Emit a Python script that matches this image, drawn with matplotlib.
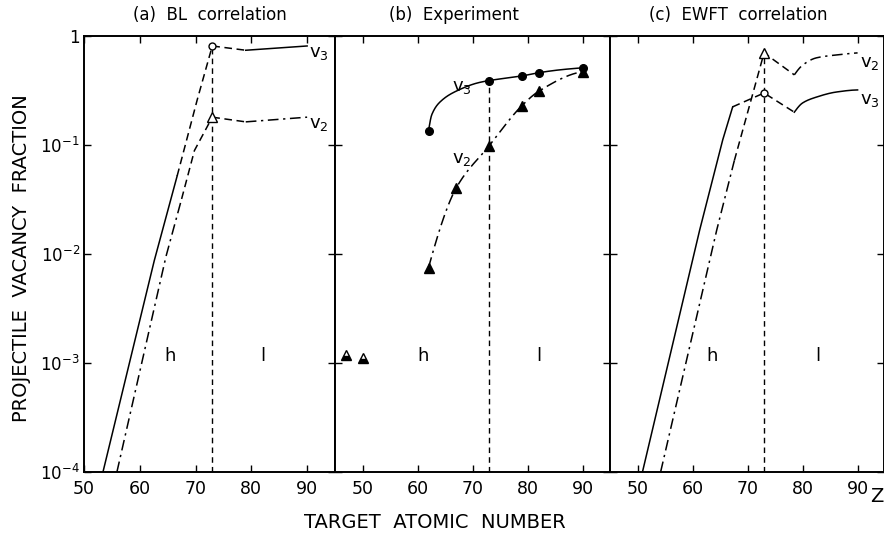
import numpy as np
import matplotlib
matplotlib.use("Agg")
import matplotlib.pyplot as plt
from matplotlib.markers import MarkerStyle

plt.rcParams['font.family'] = ['DejaVu Sans']
plt.rcParams['mathtext.default'] = 'regular'

# ---------------- data ----------------
x_ticks = [50, 60, 70, 80, 90]
y_ticks = [1e-4, 1e-3, 1e-2, 1e-1, 1]
y_ticklabels = [r'$10^{-4}$', r'$10^{-3}$', r'$10^{-2}$', r'$10^{-1}$', '1']
z_boundary = 73

# (a) BL correlation
a_v3_solid_z = [53.4, 62.6, 66.7]
a_v3_solid_v = [1.0e-4, 8.7e-3, 5.2e-2]
a_v3_dash_z = [66.7, 70.3, 73]
a_v3_dash_v = [5.2e-2, 0.26, 0.81]
a_v3_after_dash_z = [73, 79]
a_v3_after_dash_v = [0.81, 0.74]
a_v3_after_solid_z = [79, 90]
a_v3_after_solid_v = [0.74, 0.81]
a_v2_dashdot_z = [55.9, 64.7, 67.5]
a_v2_dashdot_v = [1.0e-4, 9.5e-3, 3.2e-2]
a_v2_dash_z = [67.5, 69.8, 73]
a_v2_dash_v = [3.2e-2, 8.9e-2, 0.18]
a_v2_after_dash_z = [73, 79]
a_v2_after_dash_v = [0.18, 0.163]
a_v2_after_dashdot_z = [79, 90]
a_v2_after_dashdot_v = [0.163, 0.18]

# (b) Experiment
b_v3_z = [62, 73, 79, 82, 90]
b_v3_v = [0.135, 0.39, 0.43, 0.46, 0.51]
b_v3_curve_z = [62, 62.6, 64.5, 67.5, 70.9, 73, 79, 82, 86, 90]
b_v3_curve_v = [0.135, 0.19, 0.259, 0.32, 0.371, 0.39, 0.43, 0.46, 0.49, 0.51]
b_v2_z = [62, 67, 73, 79, 82, 90]
b_v2_v = [0.0075, 0.040, 0.098, 0.23, 0.31, 0.47]
b_low_z = [47, 50]
b_low_v = [1.18e-3, 1.10e-3]

# (c) EWFT correlation
c_v3_solid_z = [50.9, 61.3, 65.5, 67.3]
c_v3_solid_v = [1.0e-4, 0.0166, 0.112, 0.224]
c_v3_dash_z = [67.3, 73, 78.5]
c_v3_dash_v = [0.224, 0.30, 0.20]
c_v3_curve_z = [78.5, 80.0, 82.5, 86.1, 90]
c_v3_curve_v = [0.20, 0.243, 0.275, 0.306, 0.32]
c_v2_dashdot_z = [54.2, 64.4, 67.6]
c_v2_dashdot_v = [1.0e-4, 0.0166, 0.072]
c_v2_dash_z = [67.6, 73, 78.5]
c_v2_dash_v = [0.072, 0.70, 0.44]
c_v2_curve_z = [78.5, 80.0, 82.5, 86.1, 90]
c_v2_curve_v = [0.44, 0.54, 0.63, 0.67, 0.70]

# ---------------- helpers ----------------
DASH = (0, (5, 3))
DASHDOT = (0, (7, 3, 1.5, 3))
VDASH = (0, (4, 3))
LW = 1.1


def smooth(zs, vs, n=400):
    """Monotone cubic (Fritsch-Carlson) through points in (Z, log10 V); rendering only."""
    x = np.asarray(zs, float)
    y = np.log10(np.asarray(vs, float))
    h = np.diff(x)
    d = np.diff(y) / h
    m = np.zeros_like(y)
    m[0], m[-1] = d[0], d[-1]
    for k in range(1, len(x) - 1):
        if d[k - 1] * d[k] <= 0:
            m[k] = 0.0
        else:
            w1 = 2 * h[k] + h[k - 1]
            w2 = h[k] + 2 * h[k - 1]
            m[k] = (w1 + w2) / (w1 / d[k - 1] + w2 / d[k])
    # endpoint shape-preserving estimate
    if len(x) > 2:
        m0 = ((2 * h[0] + h[1]) * d[0] - h[0] * d[1]) / (h[0] + h[1])
        if np.sign(m0) == np.sign(d[0]):
            m[0] = m0 if abs(m0) < 3 * abs(d[0]) else 3 * d[0]
        m1 = ((2 * h[-1] + h[-2]) * d[-1] - h[-1] * d[-2]) / (h[-1] + h[-2])
        if np.sign(m1) == np.sign(d[-1]):
            m[-1] = m1 if abs(m1) < 3 * abs(d[-1]) else 3 * d[-1]
    xs = np.linspace(x[0], x[-1], n)
    idx = np.clip(np.searchsorted(x, xs) - 1, 0, len(x) - 2)
    t = (xs - x[idx]) / h[idx]
    h00 = 2 * t ** 3 - 3 * t ** 2 + 1
    h10 = t ** 3 - 2 * t ** 2 + t
    h01 = -2 * t ** 3 + 3 * t ** 2
    h11 = t ** 3 - t ** 2
    ys = h00 * y[idx] + h10 * h[idx] * m[idx] + h01 * y[idx + 1] + h11 * h[idx] * m[idx + 1]
    return xs, 10 ** ys


def style_axes(ax, xlim, show_y):
    ax.set_yscale('log')
    ax.set_xlim(*xlim)
    ax.set_ylim(1e-4, 1)
    ax.set_xticks(x_ticks)
    ax.set_xticklabels([str(t) for t in x_ticks], fontsize=12.5)
    ax.set_yticks(y_ticks)
    ax.minorticks_off()
    if show_y:
        ax.set_yticklabels(y_ticklabels, fontsize=12)
    else:
        ax.set_yticklabels([])
    ax.tick_params(direction='in', length=5, width=1.0, top=True, right=True,
                   pad=6, colors='black')
    ax.tick_params(axis='y', pad=3)
    for s in ax.spines.values():
        s.set_linewidth(1.4)


def vlabel(ax, z, v, sub):
    ax.text(z, v, r'v$_{%s}$' % sub, fontsize=13, ha='left', va='center')


fig = plt.figure(figsize=(8.84, 5.40), dpi=100)
W, H = 884.0, 540.0
bot = 1 - 472 / H
hgt = (472 - 36) / H
axa = fig.add_axes([84 / W, bot, 251 / W, hgt])
axb = fig.add_axes([335 / W, bot, 275 / W, hgt])
axc = fig.add_axes([610 / W, bot, 274 / W, hgt])

# ---- (a)
ax = axa
style_axes(ax, (50, 95), True)
ax.plot(a_v3_solid_z, a_v3_solid_v, 'k-', lw=LW)
ax.plot(a_v3_dash_z, a_v3_dash_v, color='k', ls=DASH, lw=LW)
ax.plot(a_v3_after_dash_z, a_v3_after_dash_v, color='k', ls=DASH, lw=LW)
ax.plot(a_v3_after_solid_z, a_v3_after_solid_v, 'k-', lw=LW)
ax.plot(a_v2_dashdot_z, a_v2_dashdot_v, color='k', ls=DASHDOT, lw=LW)
ax.plot(a_v2_dash_z, a_v2_dash_v, color='k', ls=DASH, lw=LW)
ax.plot(a_v2_after_dash_z, a_v2_after_dash_v, color='k', ls=DASH, lw=LW)
ax.plot(a_v2_after_dashdot_z, a_v2_after_dashdot_v, color='k', ls=DASHDOT, lw=LW)
ax.plot([z_boundary, z_boundary], [1e-4, a_v3_dash_v[-1]], color='k', ls=VDASH, lw=1.0)
ax.plot([a_v3_dash_z[-1]], [a_v3_dash_v[-1]], 'o', ms=5, mfc='white', mec='k', mew=1.0)
ax.plot([a_v2_dash_z[-1]], [a_v2_dash_v[-1]], '^', ms=6.5, mfc='white', mec='k', mew=1.0)
vlabel(ax, 90.3, 0.70, '3')
vlabel(ax, 90.3, 0.155, '2')
ax.text(65.5, 1.15e-3, 'h', fontsize=13, ha='center', va='center')
ax.text(82, 1.15e-3, 'l', fontsize=13, ha='center', va='center')
ax.text(0.5, 1.048, '(a)  BL  correlation', transform=ax.transAxes,
        ha='center', va='center', fontsize=12)

# ---- (b)
ax = axb
style_axes(ax, (45, 95), False)
zz, vv = smooth(b_v3_curve_z, b_v3_curve_v)
ax.plot(zz, vv, 'k-', lw=LW)
zz, vv = smooth(b_v2_z, b_v2_v)
ax.plot(zz, vv, color='k', ls=DASHDOT, lw=LW)
ax.plot([z_boundary, z_boundary], [1e-4, b_v3_v[1]], color='k', ls=VDASH, lw=1.0)
ax.plot(b_v3_z, b_v3_v, 'o', ms=5.5, mfc='k', mec='k')
ax.plot(b_v2_z, b_v2_v, '^', ms=6.5, mfc='k', mec='k')
ax.plot(b_low_z, b_low_v, ls='none', marker=MarkerStyle('^', fillstyle='bottom'),
        ms=7, mfc='k', mfcalt='white', mec='k', mew=1.0)
vlabel(ax, 66.3, 0.34, '3')
vlabel(ax, 66.3, 0.075, '2')
ax.text(61, 1.15e-3, 'h', fontsize=13, ha='center', va='center')
ax.text(82, 1.15e-3, 'l', fontsize=13, ha='center', va='center')
ax.text(66.7, 1.048, '(b)  Experiment', transform=ax.get_xaxis_transform(),
        ha='center', va='center', fontsize=12)

# ---- (c)
ax = axc
style_axes(ax, (45, 94.8), False)
ax.plot(c_v3_solid_z, c_v3_solid_v, 'k-', lw=LW)
ax.plot(c_v3_dash_z, c_v3_dash_v, color='k', ls=DASH, lw=LW)
zz, vv = smooth(c_v3_curve_z, c_v3_curve_v)
ax.plot(zz, vv, 'k-', lw=LW)
ax.plot(c_v2_dashdot_z, c_v2_dashdot_v, color='k', ls=DASHDOT, lw=LW)
ax.plot(c_v2_dash_z, c_v2_dash_v, color='k', ls=DASH, lw=LW)
zz, vv = smooth(c_v2_curve_z, c_v2_curve_v)
ax.plot(zz, vv, color='k', ls=DASHDOT, lw=LW)
ax.plot([z_boundary, z_boundary], [1e-4, c_v2_dash_v[1]], color='k', ls=VDASH, lw=1.0)
ax.plot([c_v3_dash_z[1]], [c_v3_dash_v[1]], 'o', ms=5, mfc='white', mec='k', mew=1.0)
ax.plot([c_v2_dash_z[1]], [c_v2_dash_v[1]], '^', ms=6.5, mfc='white', mec='k', mew=1.0)
vlabel(ax, 90.4, 0.57, '2')
vlabel(ax, 90.4, 0.26, '3')
ax.text(63.6, 1.15e-3, 'h', fontsize=13, ha='center', va='center')
ax.text(82.7, 1.15e-3, 'l', fontsize=13, ha='center', va='center')
ax.text(68.3, 1.048, '(c)  EWFT  correlation', transform=ax.get_xaxis_transform(),
        ha='center', va='center', fontsize=12)

fig.text(22 / W, 1 - 258 / H, 'PROJECTILE  VACANCY  FRACTION', rotation=90,
         ha='center', va='center', fontsize=14)
fig.text(435 / W, 1 - 523 / H, 'TARGET  ATOMIC  NUMBER', ha='center', va='center',
         fontsize=14)
fig.text(877 / W, 1 - 496 / H, 'Z', ha='center', va='center', fontsize=14)

fig.savefig('out.png', dpi=100)
